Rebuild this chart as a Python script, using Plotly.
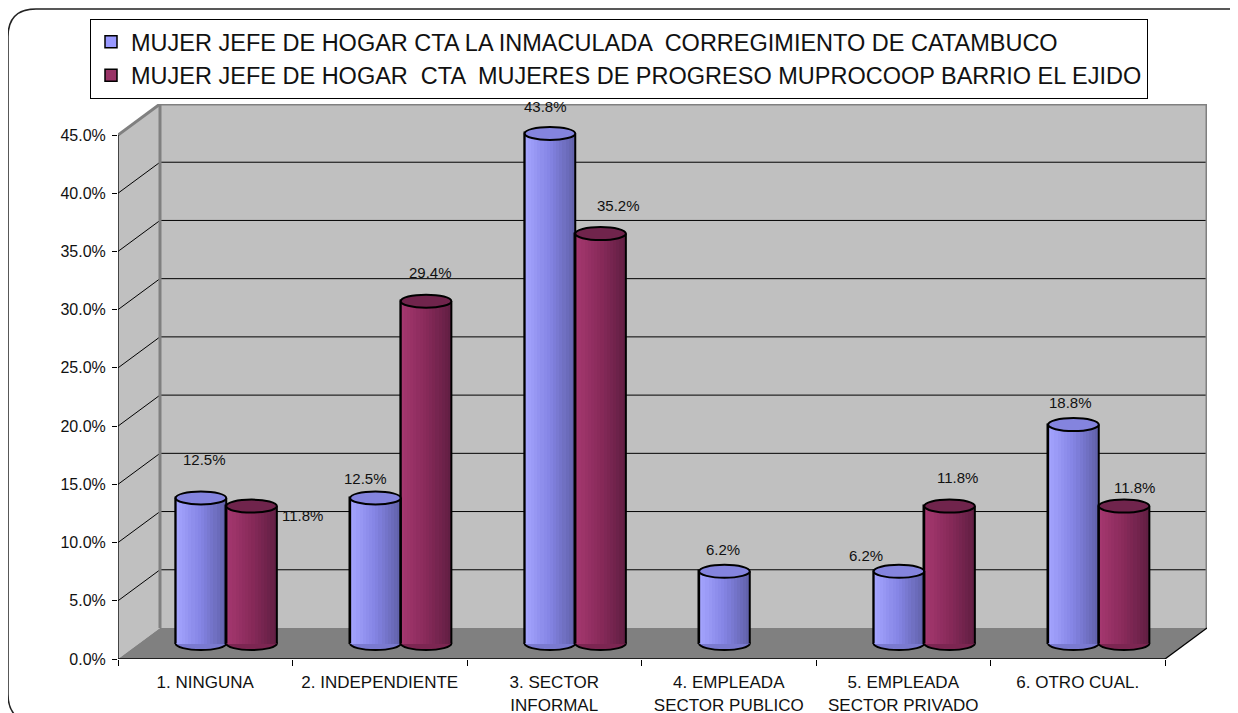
import plotly.graph_objects as go

# ---------------- data ----------------
categories = ["1. NINGUNA", "2. INDEPENDIENTE", "3. SECTOR<br>INFORMAL",
              "4. EMPLEADA<br>SECTOR PUBLICO", "5. EMPLEADA<br>SECTOR PRIVADO",
              "6. OTRO CUAL."]
series_names = ["MUJER JEFE DE HOGAR CTA LA INMACULADA  CORREGIMIENTO DE CATAMBUCO",
                "MUJER JEFE DE HOGAR  CTA  MUJERES DE PROGRESO MUPROCOOP BARRIO EL EJIDO"]
inmaculada = [12.5, 12.5, 43.8, 6.2, 6.2, 18.8]
muprocoop = [11.8, 29.4, 35.2, 0.0, 11.8, 11.8]
y_ticks = [0, 5, 10, 15, 20, 25, 30, 35, 40, 45]
y_tick_labels = [f"{v:.1f}%" for v in y_ticks]

# ---------------- style / geometry ----------------
PAGE_OFF = 8                     # default body margin of the html page
W, H = 1238 - PAGE_OFF, 713 - PAGE_OFF
ML, MR, MT, MB = 118 - PAGE_OFF, 31, 104 - PAGE_OFF, 54
PLOT_W, PLOT_H = W - ML - MR, H - MT - MB
N = len(categories)
Y_MAX = 45
DEPTH_PX = (42, 31)
PX_PER_CAT = (PLOT_W - DEPTH_PX[0]) / N
PX_PER_VAL = (PLOT_H - DEPTH_PX[1]) / Y_MAX
DX = DEPTH_PX[0] / PX_PER_CAT
DY = DEPTH_PX[1] / PX_PER_VAL
X_RANGE = [0, N + DX]
Y_RANGE = [0, Y_MAX + DY]

CYL_W = 0.29
CYL_OFF = 0.145
RY = 6.5 / PX_PER_VAL
BASE = DY / 2
FONT = "Liberation Sans, Arial, sans-serif"
TXT = "#111111"

series = [
    dict(name=series_names[0], values=inmaculada, off=-CYL_OFF, base_color="#9999FF",
         grad=[(165, 165, 255), (132, 132, 228), (96, 96, 168)],
         top="rgb(132,132,222)", bottom="rgb(122,122,208)",
         nudges=[(4, 38), (-10, 19), (-4, 27), (-1, 22), (-33, 16), (-3, 22)]),
    dict(name=series_names[1], values=muprocoop, off=CYL_OFF, base_color="#993366",
         grad=[(166, 56, 112), (136, 42, 90), (96, 30, 66)],
         top="rgb(112,36,76)", bottom="rgb(124,38,82)",
         nudges=[(51, -9), (4, 29), (18, 28), (0, 0), (8, 29), (10, 19)]),
]


def interp(stops, t):
    if t <= 0.5:
        a, b, u = stops[0], stops[1], t / 0.5
    else:
        a, b, u = stops[1], stops[2], (t - 0.5) / 0.5
    return "rgb(%d,%d,%d)" % tuple(round(a[i] + (b[i] - a[i]) * u) for i in range(3))


def paper(xpage, ypage):
    """page pixel -> paper coordinates of the plot area"""
    xpx, ypx = xpage - PAGE_OFF, ypage - PAGE_OFF
    return ((xpx - ML) / PLOT_W, (H - MB - ypx) / PLOT_H)


fig = go.Figure()
shapes = []
annotations = []

# ---------------- 3D box: walls, floor, gridlines ----------------
WALL = "#C0C0C0"
EDGE = "#808080"
FLOOR = "#808080"
shapes.append(dict(type="path", layer="below", xref="x", yref="y",
                   path=f"M{DX},{DY} L{N+DX},{DY} L{N+DX},{Y_MAX+DY} L{DX},{Y_MAX+DY} Z",
                   fillcolor=WALL, line=dict(width=0)))
shapes.append(dict(type="path", layer="below", xref="x", yref="y",
                   path=f"M0,0 L{DX},{DY} L{DX},{Y_MAX+DY} L0,{Y_MAX} Z",
                   fillcolor=WALL, line=dict(width=0)))
shapes.append(dict(type="path", layer="below", xref="x", yref="y",
                   path=f"M0,0 L{N},0 L{N+DX},{DY} L{DX},{DY} Z",
                   fillcolor=FLOOR, line=dict(width=0)))
for v in y_ticks[1:-1]:
    shapes.append(dict(type="line", layer="below", xref="x", yref="y",
                       x0=DX, y0=v + DY, x1=N + DX, y1=v + DY,
                       line=dict(color="black", width=1)))
    shapes.append(dict(type="line", layer="below", xref="x", yref="y",
                       x0=0, y0=v, x1=DX, y1=v + DY,
                       line=dict(color="black", width=1)))
for (x0, y0, x1, y1) in [(DX, Y_MAX + DY, N + DX, Y_MAX + DY),
                         (N + DX, DY, N + DX, Y_MAX + DY),
                         (DX, DY, DX, Y_MAX + DY),
                         (0, Y_MAX, DX, Y_MAX + DY)]:
    shapes.append(dict(type="line", layer="below", xref="x", yref="y",
                       x0=x0, y0=y0, x1=x1, y1=y1, line=dict(color=EDGE, width=3)))
for (x0, y0, x1, y1) in [(0, 0, N, 0), (0, 0, 0, Y_MAX), (N, 0, N + DX, DY)]:
    shapes.append(dict(type="line", layer="below", xref="x", yref="y",
                       x0=x0, y0=y0, x1=x1, y1=y1, line=dict(color="black", width=1.3)))

# ---------------- cylinders ----------------
N_STRIPS = 16
for s in series:
    xs = [i + 0.5 + DX / 2 + s["off"] for i in range(N)]
    vals = s["values"]
    keep = [i for i in range(N) if vals[i] > 0]
    kx = [xs[i] for i in keep]
    kv = [vals[i] for i in keep]
    fig.add_trace(go.Bar(x=kx, y=kv, base=BASE, width=CYL_W, name=s["name"],
                         marker=dict(color=s["base_color"], line=dict(color="black", width=1.5)),
                         hoverinfo="skip"))
    sw = CYL_W / N_STRIPS
    for k in range(N_STRIPS):
        t = (k + 0.5) / N_STRIPS
        fig.add_trace(go.Bar(x=[x - CYL_W / 2 + (k + 0.5) * sw for x in kx], y=kv, base=BASE,
                             width=sw * 1.08, showlegend=False, hoverinfo="skip",
                             marker=dict(color=interp(s["grad"], t), line=dict(width=0))))
    for x, v in zip(kx, kv):
        top = BASE + v
        xl, xr = x - CYL_W / 2, x + CYL_W / 2
        shapes.append(dict(type="circle", layer="below", xref="x", yref="y",
                           x0=xl, x1=xr, y0=BASE - RY, y1=BASE + RY,
                           fillcolor=s["bottom"], line=dict(color="black", width=2)))
        for xe in (xl, xr):
            shapes.append(dict(type="line", layer="above", xref="x", yref="y",
                               x0=xe, x1=xe, y0=BASE, y1=top,
                               line=dict(color="black", width=2)))
        shapes.append(dict(type="circle", layer="above", xref="x", yref="y",
                           x0=xl, x1=xr, y0=top - RY, y1=top + RY,
                           fillcolor=s["top"], line=dict(color="black", width=2)))
    for i in keep:
        nx, ny = s["nudges"][i]
        annotations.append(dict(x=xs[i], y=BASE + vals[i], xref="x", yref="y",
                                text=f"{vals[i]:.1f}%", showarrow=False,
                                xshift=nx, yshift=ny,
                                font=dict(family=FONT, size=15, color=TXT)))

# ---------------- outer rounded frame ----------------
fl, ft, fr, fb, r = 8, 9, 1262, 722, 28
p = [paper(fl + r, ft), paper(fr - r, ft), paper(fr, ft), paper(fr, ft + r),
     paper(fr, fb - r), paper(fr, fb), paper(fr - r, fb), paper(fl + r, fb),
     paper(fl, fb), paper(fl, fb - r), paper(fl, ft + r), paper(fl, ft)]
frame_path = (f"M{p[0][0]},{p[0][1]} L{p[1][0]},{p[1][1]} Q{p[2][0]},{p[2][1]} {p[3][0]},{p[3][1]} "
              f"L{p[4][0]},{p[4][1]} Q{p[5][0]},{p[5][1]} {p[6][0]},{p[6][1]} "
              f"L{p[7][0]},{p[7][1]} Q{p[8][0]},{p[8][1]} {p[9][0]},{p[9][1]} "
              f"L{p[10][0]},{p[10][1]} Q{p[11][0]},{p[11][1]} {p[0][0]},{p[0][1]} Z")
shapes.append(dict(type="path", xref="paper", yref="paper", layer="below", path=frame_path,
                   line=dict(color="#222222", width=1.5), fillcolor="rgba(0,0,0,0)"))

lx, ly = paper(90, 19)
fig.update_layout(
    width=W, height=H, autosize=False,
    margin=dict(l=ML, r=MR, t=MT, b=MB, pad=0, autoexpand=False),
    paper_bgcolor="white", plot_bgcolor="rgba(0,0,0,0)",
    barmode="overlay", bargap=0,
    font=dict(family=FONT, color=TXT),
    shapes=shapes, annotations=annotations,
    showlegend=True,
    legend=dict(x=lx, y=ly, xanchor="left", yanchor="top",
                bgcolor="white", bordercolor="black", borderwidth=1,
                font=dict(family=FONT, size=23.5, color=TXT),
                itemclick=False, itemdoubleclick=False),
    xaxis=dict(range=X_RANGE, showgrid=False, zeroline=False, showline=False,
               automargin=False,
               tickmode="array", tickvals=[i + 0.5 for i in range(N)], ticktext=categories,
               ticks="outside", ticklen=8, tickcolor="rgba(0,0,0,0)",
               tickfont=dict(family=FONT, size=17, color=TXT),
               minor=dict(tickmode="array", tickvals=list(range(N + 1)), ticks="outside",
                          ticklen=6, tickcolor="black", tickwidth=1, showgrid=False),
               fixedrange=True),
    yaxis=dict(range=Y_RANGE, showgrid=False, zeroline=False, showline=False,
               automargin=False,
               tickmode="array", tickvals=y_ticks, ticktext=y_tick_labels,
               ticks="outside", ticklen=5, tickcolor="black", tickwidth=1,
               ticklabelstandoff=3,
               tickfont=dict(family=FONT, size=16, color=TXT), fixedrange=True),
)

fig.write_html("out.html")
